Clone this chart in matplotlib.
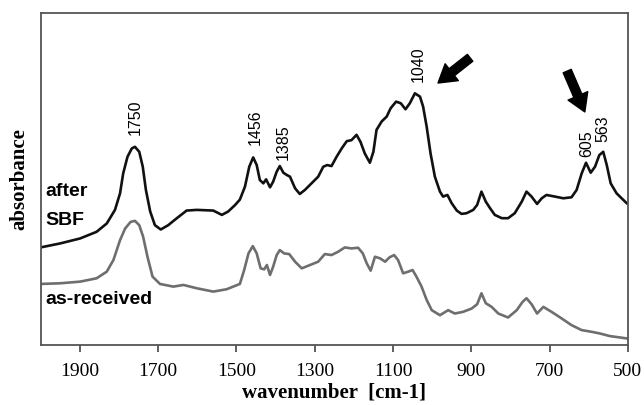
import numpy as np
import matplotlib
matplotlib.use("Agg")
import matplotlib.pyplot as plt

# FTIR spectra (wavenumber in cm-1, absorbance in % of axis height)
wn_sbf = [2000, 1950, 1899, 1857, 1831, 1810, 1797, 1789, 1778, 1767, 1759, 1748, 1739, 1731,
          1720, 1708, 1693, 1674, 1652, 1627, 1601, 1559, 1537, 1521, 1503, 1491, 1478, 1467,
          1457, 1448, 1440, 1431, 1424, 1414, 1406, 1397, 1389, 1380, 1371, 1363, 1350, 1338,
          1325, 1308, 1291, 1278, 1268, 1257, 1244, 1231, 1218, 1206, 1193, 1183, 1172, 1159,
          1150, 1142, 1129, 1116, 1106, 1092, 1080, 1068, 1057, 1044, 1031, 1023, 1014, 1004,
          993, 980, 972, 961, 950, 937, 925, 912, 895, 885, 874, 863, 852, 840, 822, 806, 789,
          771, 759, 746, 732, 720, 708, 686, 665, 644, 631, 618, 607, 595, 584, 573, 563, 554,
          544, 529, 503, 500]
abs_sbf = [29.4, 30.6, 32.1, 34.1, 36.6, 40.7, 45.7, 51.7, 56.7, 59.2, 59.7, 58.2, 53.7, 46.7,
           40.2, 36.1, 34.8, 36.1, 38.2, 40.5, 40.7, 40.5, 39.2, 40.2, 42.2, 43.8, 47.7, 53.7,
           56.5, 54.2, 49.7, 48.7, 49.9, 47.5, 49.2, 52.2, 53.9, 51.9, 51.2, 50.7, 47.2, 45.5,
           46.7, 48.7, 50.7, 53.7, 54.2, 53.9, 56.7, 59.2, 61.4, 61.7, 63.3, 61.2, 57.7, 54.9,
           58.2, 64.8, 67.3, 68.8, 71.3, 73.3, 72.8, 71.0, 72.8, 75.8, 74.8, 71.8, 65.8, 57.7,
           50.7, 46.2, 44.7, 45.2, 42.7, 40.5, 39.5, 39.7, 40.7, 42.2, 46.2, 43.2, 41.2, 39.2,
           38.2, 38.2, 39.7, 43.2, 46.2, 44.7, 42.5, 44.2, 45.2, 44.7, 44.2, 44.5, 46.7, 51.7,
           54.9, 51.9, 53.7, 57.2, 58.2, 54.2, 48.7, 45.7, 42.7, 42.5]

wn_rec = [2000, 1950, 1899, 1857, 1831, 1814, 1797, 1784, 1770, 1759, 1748, 1738, 1727, 1714,
          1695, 1661, 1635, 1601, 1559, 1525, 1491, 1480, 1469, 1458, 1448, 1438, 1429, 1422,
          1414, 1406, 1397, 1389, 1378, 1365, 1350, 1333, 1312, 1291, 1274, 1257, 1240, 1223,
          1206, 1189, 1177, 1167, 1157, 1146, 1133, 1120, 1109, 1097, 1087, 1074, 1061, 1050,
          1040, 1027, 1014, 1001, 980, 959, 942, 921, 899, 885, 874, 863, 848, 831, 806, 784,
          769, 759, 746, 732, 716, 695, 669, 644, 618, 593, 572, 546, 521, 503]
abs_rec = [18.4, 18.6, 19.1, 20.1, 22.1, 25.6, 31.6, 35.1, 37.1, 37.4, 36.1, 32.6, 26.6, 20.6,
           18.4, 17.6, 18.1, 17.1, 16.1, 16.8, 18.4, 22.6, 27.6, 29.8, 27.6, 23.1, 22.8, 24.1,
           21.1, 23.6, 27.1, 28.6, 27.6, 27.4, 25.1, 23.1, 24.1, 25.1, 27.4, 27.1, 28.1, 29.4,
           29.1, 29.3, 27.6, 24.6, 22.4, 26.6, 26.1, 25.1, 26.4, 27.1, 25.6, 21.6, 22.1, 22.6,
           20.6, 17.6, 13.6, 10.5, 9.0, 10.5, 9.5, 10.0, 11.0, 12.3, 15.6, 12.6, 11.5, 9.5,
           8.3, 10.5, 13.0, 14.1, 12.3, 9.5, 11.5, 10.0, 8.0, 6.0, 4.5, 4.0, 3.5, 2.7, 2.3, 2.0]

# peak labels: text, x, bottom of text
peak_text = ["1750", "1456", "1385", "1040", "605", "563"]
peak_x = [1757, 1453, 1380, 1035, 606, 563]
peak_y = [63.3, 60.2, 55.7, 79.3, 56.7, 61.2]

xticks = [1900, 1700, 1500, 1300, 1100, 900, 700, 500]

fig = plt.figure(figsize=(6.44, 4.05), dpi=100)
ax = fig.add_axes([0.063, 0.148, 0.912, 0.82])

ax.plot(wn_rec, abs_rec, color="#6e6e6e", lw=1.9, solid_joinstyle="round")
ax.plot(wn_sbf, abs_sbf, color="#111111", lw=1.9, solid_joinstyle="round")

ax.set_xlim(2000, 500)
ax.set_ylim(0, 100)
ax.set_xticks(xticks)
ax.set_yticks([])

serif = ["Liberation Serif", "DejaVu Serif"]
for lab in ax.get_xticklabels():
    lab.set_fontfamily(serif)
    lab.set_fontsize(14)
ax.tick_params(axis="x", direction="out", length=5, width=1.2, color="#444444", pad=8)

for s in ax.spines.values():
    s.set_color("#555555")
    s.set_linewidth(1.3)

ax.set_xlabel("wavenumber  [cm-1]", fontfamily=serif, fontweight="bold", fontsize=15, labelpad=2)
ax.set_ylabel("absorbance", fontfamily=serif, fontweight="bold", fontsize=15, labelpad=8)

# curve names
sans = ["Liberation Sans", "DejaVu Sans"]
ax.text(1988, 46.3, "after", fontfamily=sans, fontweight="bold", fontsize=14, va="center", ha="left")
ax.text(1988, 37.5, "SBF", fontfamily=sans, fontweight="bold", fontsize=14, va="center", ha="left")
ax.text(1988, 13.6, "as-received", fontfamily=sans, fontweight="bold", fontsize=14, va="center", ha="left")

for t, x, y in zip(peak_text, peak_x, peak_y):
    ax.text(x, y, t, rotation=90, ha="center", va="bottom", fontfamily=sans, fontsize=11.5)

# arrows
arrow_style = "simple,head_width=1.1,head_length=0.9,tail_width=0.45"
ax.annotate("", xy=(985, 78.9), xytext=(903, 86.5),
            arrowprops=dict(arrowstyle=arrow_style, color="black", shrinkA=0, shrinkB=0,
                            mutation_scale=14))
ax.annotate("", xy=(610, 70.2), xytext=(655, 82.5),
            arrowprops=dict(arrowstyle=arrow_style, color="black", shrinkA=0, shrinkB=0,
                            mutation_scale=14))

fig.savefig("out.png", dpi=100)
